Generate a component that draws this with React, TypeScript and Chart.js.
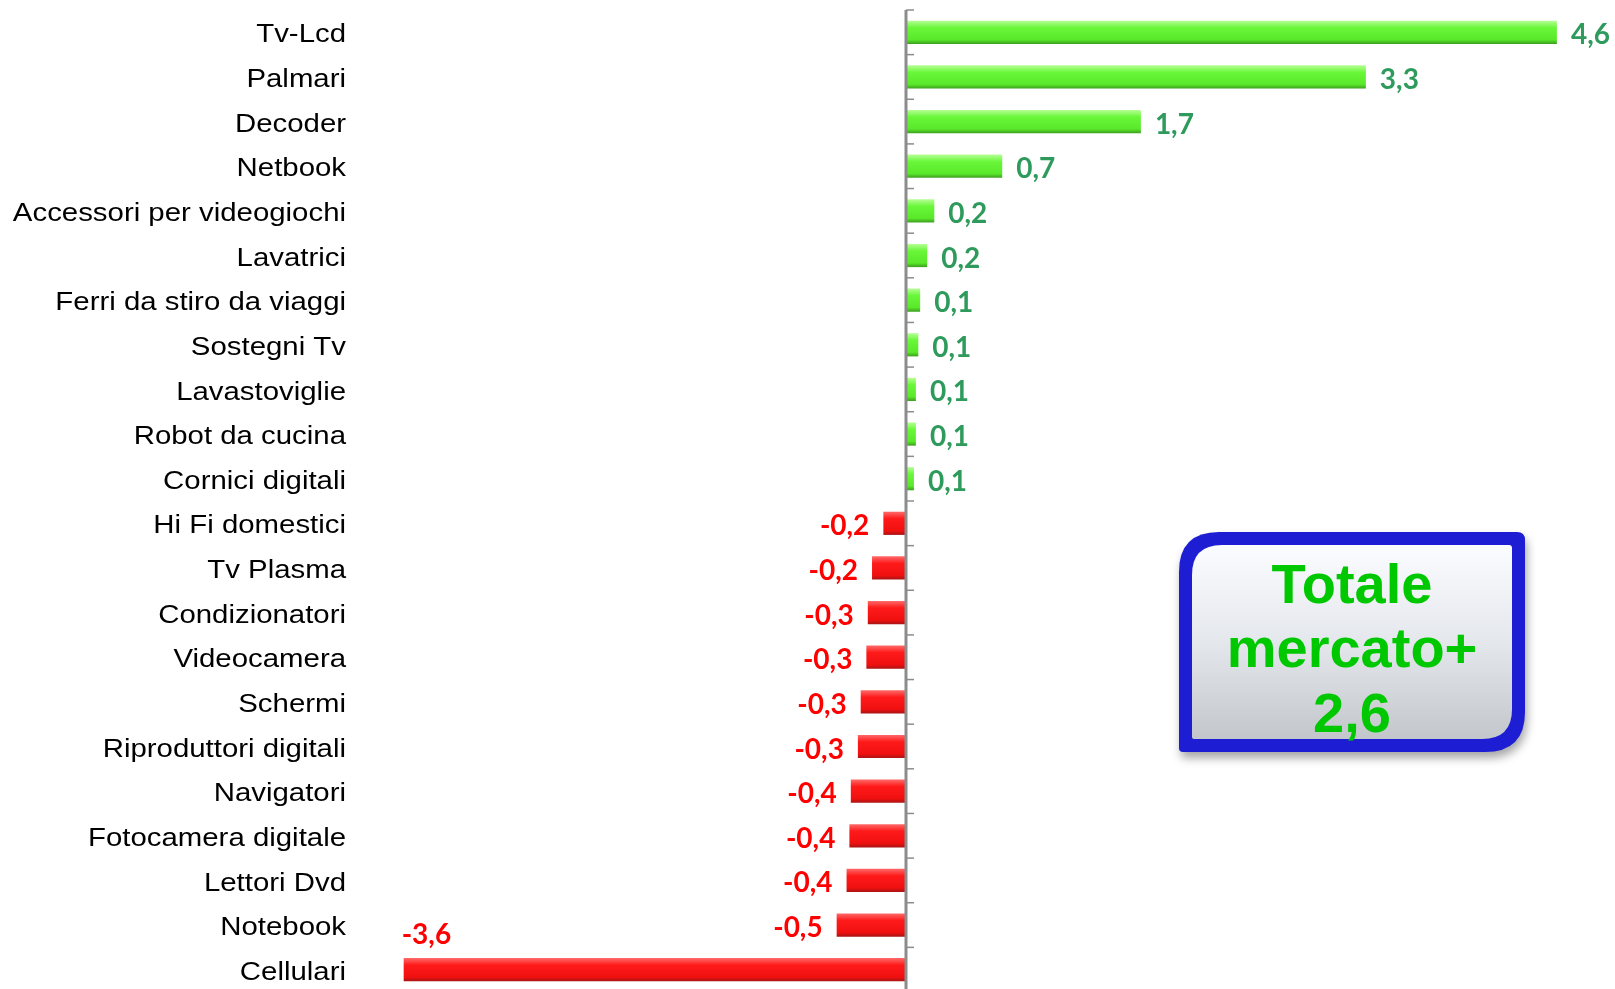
import React, { useEffect, useRef } from "react";
import { Chart, registerables } from "chart.js";

Chart.register(...registerables);

const categories = [
  "Tv-Lcd",
  "Palmari",
  "Decoder",
  "Netbook",
  "Accessori per videogiochi",
  "Lavatrici",
  "Ferri da stiro da viaggi",
  "Sostegni Tv",
  "Lavastoviglie",
  "Robot da cucina",
  "Cornici digitali",
  "Hi Fi domestici",
  "Tv Plasma",
  "Condizionatori",
  "Videocamera",
  "Schermi",
  "Riproduttori digitali",
  "Navigatori",
  "Fotocamera digitale",
  "Lettori Dvd",
  "Notebook",
  "Cellulari",
];

const values = [
  4.6, 3.25, 1.66, 0.68, 0.2, 0.15, 0.1, 0.087, 0.07, 0.07, 0.056, -0.16, -0.24,
  -0.27, -0.28, -0.32, -0.34, -0.39, -0.4, -0.42, -0.49, -3.55,
];

const valueLabels = [
  "4,6", "3,3", "1,7", "0,7", "0,2", "0,2", "0,1", "0,1", "0,1", "0,1", "0,1",
  "-0,2", "-0,2", "-0,3", "-0,3", "-0,3", "-0,3", "-0,4", "-0,4", "-0,4", "-0,5", "-3,6",
];

const boxLines = ["Totale", "mercato+", "2,6"];

const X_MIN = -4.0;
const X_MAX = 4.622;
const BAR_PCT = 0.52;

function roundedPath(
  ctx: CanvasRenderingContext2D,
  x: number,
  y: number,
  w: number,
  h: number,
  r: [number, number, number, number]
) {
  const [tl, tr, br, bl] = r;
  ctx.beginPath();
  ctx.moveTo(x + tl, y);
  ctx.lineTo(x + w - tr, y);
  ctx.quadraticCurveTo(x + w, y, x + w, y + tr);
  ctx.lineTo(x + w, y + h - br);
  ctx.quadraticCurveTo(x + w, y + h, x + w - br, y + h);
  ctx.lineTo(x + bl, y + h);
  ctx.quadraticCurveTo(x, y + h, x, y + h - bl);
  ctx.lineTo(x, y + tl);
  ctx.quadraticCurveTo(x, y, x + tl, y);
  ctx.closePath();
}

const overlayPlugin = {
  id: "overlay",
  afterDatasetsDraw(chart: any) {
    const { ctx, chartArea } = chart;
    const xs = chart.scales.x;
    const ys = chart.scales.y;
    const x0 = xs.getPixelForValue(0);
    const n = categories.length;
    const band = chartArea.height / n;

    // category labels (right aligned, slightly wide like the original)
    ctx.save();
    ctx.font = '26px "Liberation Sans", Arial, sans-serif';
    ctx.fillStyle = "#000";
    ctx.textAlign = "right";
    ctx.textBaseline = "middle";
    categories.forEach((c, i) => {
      const y = ys.getPixelForValue(i);
      ctx.save();
      ctx.translate(346, y + 3);
      ctx.scale(1.13, 1);
      ctx.fillText(c, 0, 0);
      ctx.restore();
    });
    ctx.restore();

    // zero axis line with tick marks
    ctx.save();
    ctx.strokeStyle = "#8c8c8c";
    ctx.lineWidth = 3;
    ctx.beginPath();
    ctx.moveTo(x0, chartArea.top);
    ctx.lineTo(x0, chartArea.bottom + 5);
    ctx.stroke();
    ctx.lineWidth = 1.5;
    for (let i = 0; i <= n; i++) {
      const y = chartArea.top + i * band;
      ctx.beginPath();
      ctx.moveTo(x0, y);
      ctx.lineTo(x0 + 8, y);
      ctx.stroke();
    }
    ctx.restore();

    // value labels
    const meta = chart.getDatasetMeta(0);
    ctx.save();
    ctx.font = 'bold 28px Lato, "Open Sans", sans-serif';
    ctx.textBaseline = "middle";
    meta.data.forEach((el: any, i: number) => {
      const v = values[i];
      const txt = valueLabels[i];
      const w = ctx.measureText(txt).width;
      if (v >= 0) {
        ctx.fillStyle = "#2e9b5c";
        ctx.textAlign = "left";
        ctx.fillText(txt, el.x + 14, el.y + 3);
      } else {
        ctx.fillStyle = "#ff0000";
        if (el.x - 14 - w < chartArea.left + 60) {
          ctx.textAlign = "left";
          ctx.fillText(txt, el.x - 2, el.y - 35);
        } else {
          ctx.textAlign = "right";
          ctx.fillText(txt, el.x - 14, el.y + 3);
        }
      }
    });
    ctx.restore();

    // summary box
    const bx = 1179, by = 532, bw = 346, bh = 220;
    ctx.save();
    ctx.shadowColor = "rgba(0,0,0,0.35)";
    ctx.shadowBlur = 10;
    ctx.shadowOffsetY = 6;
    ctx.shadowOffsetX = 2;
    roundedPath(ctx, bx, by, bw, bh, [40, 8, 40, 4]);
    ctx.fillStyle = "#1d1dd4";
    ctx.fill();
    ctx.restore();
    ctx.save();
    const t = 13;
    const g = ctx.createLinearGradient(0, by + t, 0, by + bh - t);
    g.addColorStop(0, "#fbfcff");
    g.addColorStop(0.5, "#e4e7ec");
    g.addColorStop(1, "#c3c7cc");
    roundedPath(ctx, bx + t, by + t, bw - 2 * t, bh - 2 * t, [30, 3, 30, 2]);
    ctx.fillStyle = g;
    ctx.fill();
    ctx.fillStyle = "#00c800";
    ctx.font = 'bold 56px "Liberation Sans", Arial, sans-serif';
    ctx.textAlign = "center";
    ctx.textBaseline = "alphabetic";
    const cx = bx + bw / 2;
    const baselines = [603, 667, 732];
    boxLines.forEach((line, i) => ctx.fillText(line, cx, baselines[i]));
    ctx.restore();
  },
};

export default function App() {
  const ref = useRef<HTMLCanvasElement>(null);
  useEffect(() => {
    if (!ref.current) return;
    const chart = new Chart(ref.current, {
      type: "bar",
      data: {
        labels: categories,
        datasets: [
          {
            data: values,
            borderWidth: 0,
            barPercentage: BAR_PCT,
            categoryPercentage: 1,
            backgroundColor: (c: any) => {
              const v = c.raw as number;
              const chart = c.chart;
              const area = chart.chartArea;
              if (!area) return v >= 0 ? "#66ff33" : "#ff1a1a";
              const yc = chart.scales.y.getPixelForValue(c.dataIndex);
              const h = ((area.height / categories.length) * BAR_PCT) / 2;
              const g = chart.ctx.createLinearGradient(0, yc - h, 0, yc + h);
              if (v >= 0) {
                g.addColorStop(0, "#b6ff96");
                g.addColorStop(0.3, "#6af73a");
                g.addColorStop(0.82, "#5ae82a");
                g.addColorStop(1, "#3b9e1e");
              } else {
                g.addColorStop(0, "#ff6a6a");
                g.addColorStop(0.3, "#ff1a1a");
                g.addColorStop(0.82, "#f01010");
                g.addColorStop(1, "#a81414");
              }
              return g;
            },
          },
        ],
      },
      options: {
        indexAxis: "y",
        responsive: false,
        animation: false,
        layout: { padding: { top: 10, bottom: 3, right: 55, left: 0 } },
        plugins: { legend: { display: false }, tooltip: { enabled: false } },
        scales: {
          x: { display: false, min: X_MIN, max: X_MAX },
          y: {
            grid: { display: false, drawTicks: false },
            border: { display: false },
            ticks: { display: false },
            afterFit: (s: any) => {
              s.width = 340;
            },
          },
        },
      },
      plugins: [overlayPlugin],
    } as any);
    return () => chart.destroy();
  }, []);
  return (
    <div style={{ position: "fixed", left: 0, top: 0, width: 1615, height: 995, background: "#fff" }}>
      <canvas ref={ref} width={1615} height={995} style={{ display: "block" }} />
    </div>
  );
}
